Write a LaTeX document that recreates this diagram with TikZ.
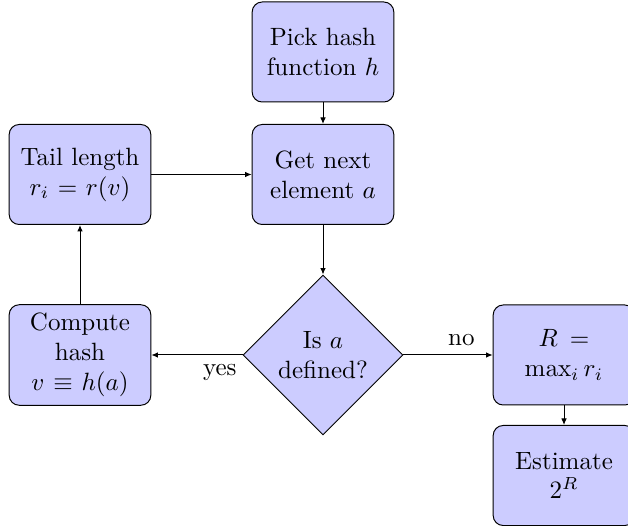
\documentclass[tikz,border=0pt]{standalone}
\usetikzlibrary{shapes.geometric,arrows.meta}
\begin{document}
\begin{tikzpicture}[x=0.4pt,y=-0.4pt,
  block/.style={rectangle, draw, fill=blue!20, text width=5em, align=center, rounded corners, minimum height=4em},
  decision/.style={diamond, draw, fill=blue!20, text width=4.5em, align=center, inner sep=0pt},
  line/.style={draw, -{Latex[length=2.6pt,width=2.2pt]}}]
\useasboundingbox (0,0) rectangle (628,526);
\node[block] (init) at (323,52) {Pick hash function $h$};
\node[block] (next) at (323,174.5) {Get next element $a$};
\node[block] (tail) at (80,174.5) {Tail length $r_i = r(v)$};
\node[decision] (decide) at (323,355) {Is $a$ defined?};
\node[block] (compute) at (80,355) {Compute hash $v \equiv h(a)$};
\node[block] (max) at (564,355) {$R = \max_i r_i$};
\node[block] (est) at (564,475.5) {Estimate $2^R$};
\path[line] (init) -- (next);
\path[line] (next) -- (decide);
\path[line] (decide) -- node[pos=0.25, below] {yes} (compute);
\path[line] (compute) -- (tail);
\path[line] (tail) -- (next);
\path[line] (decide) -- node[pos=0.65, above] {no} (max);
\path[line] (max) -- (est);
\end{tikzpicture}
\end{document}
